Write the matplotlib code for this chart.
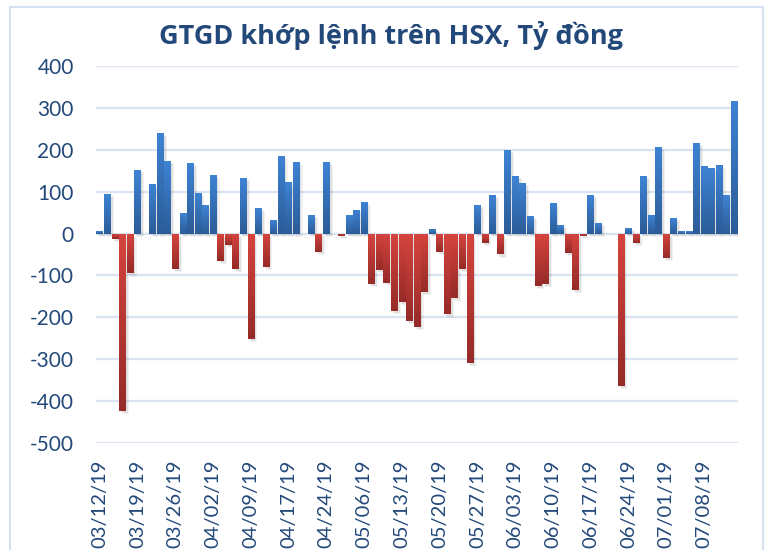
import numpy as np
import matplotlib
matplotlib.use("Agg")
import matplotlib.pyplot as plt
import matplotlib.transforms as mtransforms
from matplotlib.patches import Rectangle
from matplotlib.colors import LinearSegmentedColormap

title = "GTGD khớp lệnh trên HSX, Tỷ đồng"

values = [7, 95, -12, -424, -95, 152, -2, 119, 240, 174,
          -84, 48, 169, 98, 69, 140, -65, -27, -84, 133,
          -251, 60, -79, 33, 186, 124, 171, -2, 45, -43,
          171, -2, -5, 45, 57, 76, -120, -87, -117, -184,
          -163, -208, -222, -139, 12, -43, -193, -155, -84, -308,
          69, -22, 93, -50, 200, 138, 121, 43, -125, -120,
          74, 21, -46, -134, -5, 93, 26, 0, 0, -363,
          14, -22, 138, 45, 207, -58, 38, 5, 7, 217,
          162, 157, 164, 93, 317]

tick_labels = ["03/12/19", "03/19/19", "03/26/19", "04/02/19", "04/09/19",
               "04/17/19", "04/24/19", "05/06/19", "05/13/19", "05/20/19",
               "05/27/19", "06/03/19", "06/10/19", "06/17/19", "06/24/19",
               "07/01/19", "07/08/19"]
tick_step = 5

y_ticks = list(range(-500, 401, 100))

text_color = "#23497A"
grid_color = "#D9E3F1"
blue_cmap = LinearSegmentedColormap.from_list("b", ["#2C5C98", "#3E83D3"])
red_cmap = LinearSegmentedColormap.from_list("r", ["#962B28", "#D6443E"])

fig = plt.figure(figsize=(7.66, 5.5), dpi=100)
W, H = 766, 550
ax = fig.add_axes([96 / W, 1 - 443 / H, (738 - 96) / W, (443 - 66) / H])

x = np.arange(len(values))
vals = np.array(values, dtype=float)
width = 0.88

# shadows
for off, a in [(2.0, 0.07), (3.2, 0.05)]:
    tr = ax.transData + mtransforms.ScaledTranslation(off / 100, -off / 100, fig.dpi_scale_trans)
    sh = ax.bar(x, vals, width=width, color="black", alpha=a, zorder=2, linewidth=0)
    for p in sh:
        p.set_transform(tr)

bars = ax.bar(x, vals, width=width, color="none", linewidth=0, zorder=3)
grad = np.linspace(0, 1, 64).reshape(-1, 1)
for xi, v, p in zip(x, vals, bars):
    if v == 0:
        continue
    cmap = blue_cmap if v > 0 else red_cmap
    im = ax.imshow(grad, extent=[xi - width / 2, xi + width / 2, min(0, v), max(0, v)],
                   origin="lower", cmap=cmap, aspect="auto", zorder=3, interpolation="bilinear")
    im.set_clip_path(p)

ax.set_xlim(-0.5, len(values) - 0.5)
ax.set_ylim(-500, 400)
ax.set_yticks(y_ticks)
ax.set_yticklabels([str(t) for t in y_ticks], fontsize=15, color=text_color, family="Lato")
ax.set_xticks(x[::tick_step][:len(tick_labels)])
ax.set_xticklabels(tick_labels, rotation=90, fontsize=14.5, color=text_color, family="Lato")
ax.tick_params(axis="both", length=0)
ax.tick_params(axis="y", pad=16)
ax.tick_params(axis="x", pad=12)
ax.yaxis.grid(True, color=grid_color, linewidth=1.6)
ax.set_axisbelow(True)
for s in ax.spines.values():
    s.set_visible(False)

fig.text(391 / W, 1 - 35 / H, title, ha="center", va="center", fontsize=19.5,
         fontweight="bold", color=text_color, family="Open Sans")

fig.patches.append(Rectangle((10 / W, -0.1), (763 - 10) / W, 1 - 7 / H + 0.1,
                             transform=fig.transFigure, fill=False,
                             edgecolor="#D6E2F2", linewidth=1.5))

fig.savefig("out.png", dpi=100)
